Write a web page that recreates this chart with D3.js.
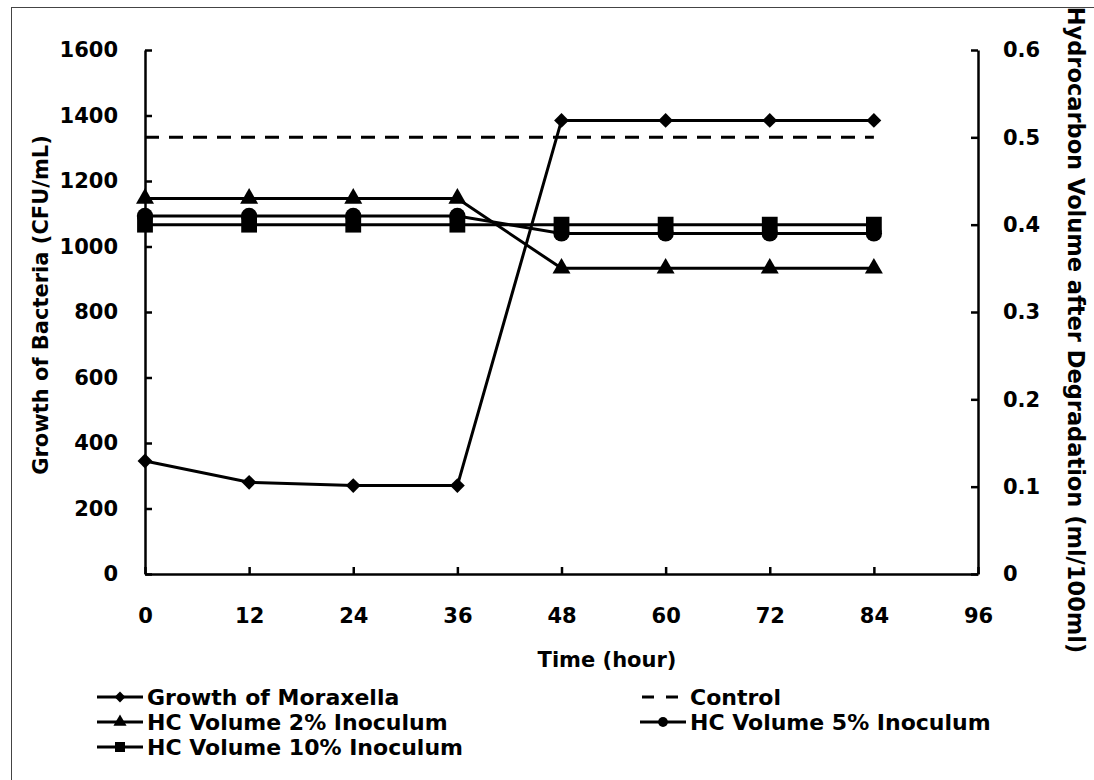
<!DOCTYPE html>
<html>
<head>
<meta charset="utf-8">
<script src="https://cdn.jsdelivr.net/npm/d3@7"></script>
<style>
    body { margin: 0; background: #fff; }
    svg { display: block; }
    svg text { font-family: 'DejaVu Sans', sans-serif; font-weight: bold; fill: #000; }
    .axis path, .axis line { stroke: #000; stroke-width: 2.5; }
    .axis text { font-size: 21px; }
</style>
</head>
<body>
<svg id="chart" width="1094" height="780"></svg>
<script>
const hours = [0, 12, 24, 36, 48, 60, 72, 84];
const moraxella = [345, 280, 270, 270, 1385, 1385, 1385, 1385];
const control = [0.5, 0.5, 0.5, 0.5, 0.5, 0.5, 0.5, 0.5];
const hc2 = [0.43, 0.43, 0.43, 0.43, 0.35, 0.35, 0.35, 0.35];
const hc5 = [0.41, 0.41, 0.41, 0.41, 0.39, 0.39, 0.39, 0.39];
const hc10 = [0.40, 0.40, 0.40, 0.40, 0.40, 0.40, 0.40, 0.40];

const xTicks = [0, 12, 24, 36, 48, 60, 72, 84, 96];
const leftTicks = [0, 200, 400, 600, 800, 1000, 1200, 1400, 1600];
const rightTicks = [0, 0.1, 0.2, 0.3, 0.4, 0.5, 0.6];

const series = [
    { name: 'Growth of Moraxella', values: moraxella, axis: 'left', symbol: 'diamond', dash: null },
    { name: 'Control', values: control, axis: 'right', symbol: null, dash: '14,10' },
    { name: 'HC Volume 2% Inoculum', values: hc2, axis: 'right', symbol: 'triangle', dash: null },
    { name: 'HC Volume 5% Inoculum', values: hc5, axis: 'right', symbol: 'circle', dash: null },
    { name: 'HC Volume 10% Inoculum', values: hc10, axis: 'right', symbol: 'square', dash: null },
];

const margin = { top: 50, right: 116, bottom: 206, left: 145 };
const width = 1094;
const height = 780;

const svg = d3.select('#chart');

const x = d3.scaleLinear().domain([0, 96]).range([margin.left, width - margin.right]);
const yLeft = d3.scaleLinear().domain([0, 1600]).range([height - margin.bottom, margin.top]);
const yRight = d3.scaleLinear().domain([0, 0.6]).range([height - margin.bottom, margin.top]);

const symbolTypes = {
    diamond: d3.symbolDiamond2,
    triangle: d3.symbolTriangle,
    circle: d3.symbolCircle,
    square: d3.symbolSquare,
};
const symbolSizes = { diamond: 140, triangle: 140, circle: 210, square: 250 };

// outer frame, cut off at right and bottom like the source
svg.append('rect')
    .attr('x', 11.5)
    .attr('y', 7.5)
    .attr('width', 1200)
    .attr('height', 900)
    .attr('fill', 'none')
    .attr('stroke', '#444')
    .attr('stroke-width', 1);

// axes
svg.append('g')
    .attr('class', 'axis')
    .attr('transform', `translate(${margin.left},0)`)
    .call(d3.axisLeft(yLeft).tickValues(leftTicks).tickSizeInner(-7).tickSizeOuter(0).tickPadding(27).tickFormat(d3.format('d')))
    .attr('font-family', null);

svg.append('g')
    .attr('class', 'axis')
    .attr('transform', `translate(${width - margin.right},0)`)
    .call(d3.axisRight(yRight).tickValues(rightTicks).tickSizeInner(-7).tickSizeOuter(0).tickPadding(25).tickFormat(d => (d === 0 ? '0' : d3.format('.1f')(d))))
    .attr('font-family', null);

svg.append('g')
    .attr('class', 'axis')
    .attr('transform', `translate(0,${height - margin.bottom})`)
    .call(d3.axisBottom(x).tickValues(xTicks).tickSizeInner(-7).tickSizeOuter(0).tickPadding(34))
    .attr('font-family', null);

// axis titles
svg.append('text')
    .attr('transform', 'translate(607,667)')
    .attr('text-anchor', 'middle')
    .style('font-size', '21px')
    .text('Time (hour)');

svg.append('text')
    .attr('transform', `translate(48,305) rotate(-90)`)
    .attr('text-anchor', 'middle')
    .style('font-size', '21px')
    .text('Growth of Bacteria (CFU/mL)');

svg.append('text')
    .attr('transform', `translate(1068,330) rotate(90)`)
    .attr('text-anchor', 'middle')
    .style('font-size', '22.5px')
    .text('Hydrocarbon Volume after Degradation (ml/100ml)');

// lines and markers
const plot = svg.append('g');

series.forEach(s => {
    const y = s.axis === 'left' ? yLeft : yRight;
    const line = d3.line().x((d, i) => x(hours[i])).y(d => y(d));

    plot.append('path')
        .datum(s.values)
        .attr('d', line)
        .attr('fill', 'none')
        .attr('stroke', '#000')
        .attr('stroke-width', 3)
        .attr('stroke-dasharray', s.dash);

    if (s.symbol) {
        const sym = d3.symbol().type(symbolTypes[s.symbol]).size(symbolSizes[s.symbol]);
        plot.append('g')
            .selectAll('path')
            .data(s.values)
            .join('path')
            .attr('transform', (d, i) => `translate(${x(hours[i])},${y(d)})`)
            .attr('d', sym)
            .attr('fill', '#000');
    }
});

// legend
const legendPos = [
    { x: 97, y: 697 },
    { x: 640, y: 697 },
    { x: 97, y: 722 },
    { x: 640, y: 722 },
    { x: 97, y: 747 },
];

const legend = svg.append('g')
    .selectAll('g')
    .data(series)
    .join('g')
    .attr('transform', (d, i) => `translate(${legendPos[i].x},${legendPos[i].y})`);

legend.append('line')
    .attr('x1', d => (d.dash ? 2 : 0))
    .attr('x2', d => (d.dash ? 38 : 46))
    .attr('stroke', '#000')
    .attr('stroke-width', 3)
    .attr('stroke-dasharray', d => (d.dash ? '12,12' : null));

legend.filter(d => d.symbol)
    .append('path')
    .attr('transform', 'translate(23,0)')
    .attr('d', d => d3.symbol().type(symbolTypes[d.symbol]).size(d.symbol === 'square' ? 100 : 75)());

legend.append('text')
    .attr('x', 50)
    .attr('dy', '0.36em')
    .style('font-size', '22px')
    .text(d => d.name);
</script>
</body>
</html>
